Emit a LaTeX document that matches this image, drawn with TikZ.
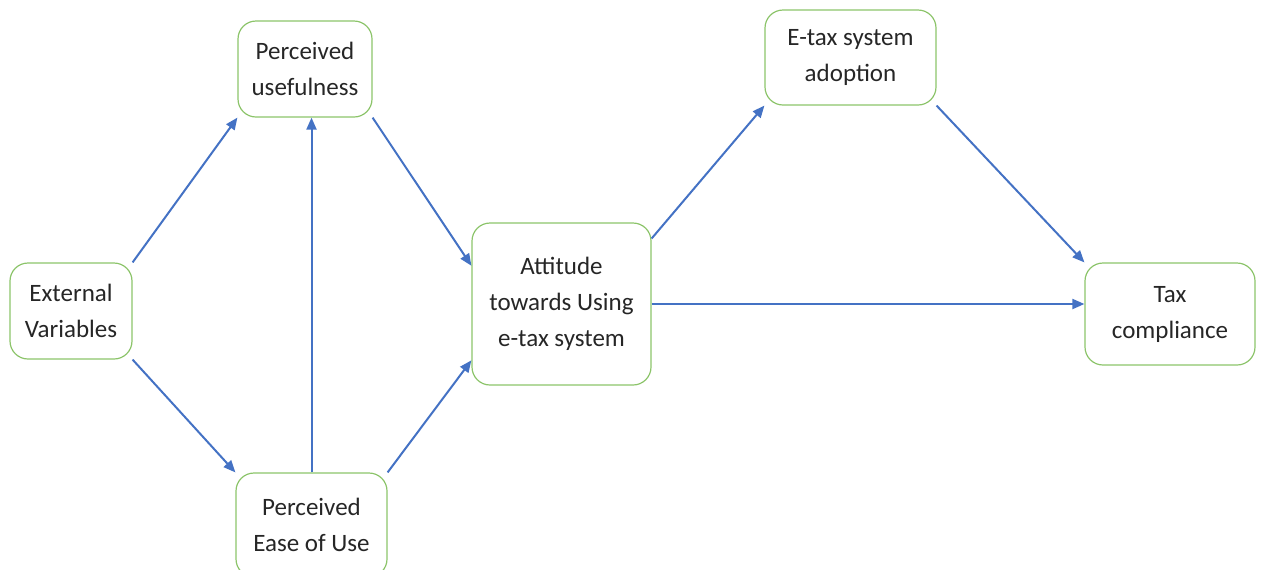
\documentclass[tikz,border=0pt]{standalone}
\usepackage{fontspec}
\setmainfont{Carlito}
\usetikzlibrary{arrows.meta}
\definecolor{boxgreen}{HTML}{8CC46A}
\definecolor{arrowblue}{HTML}{4472C4}
\begin{document}
\begin{tikzpicture}[x=0.5pt,y=-0.5pt,
		block/.style={draw=boxgreen,line width=0.6pt,rounded corners=9pt,align=center,inner sep=0pt,
			font=\fontsize{12.5}{18}\selectfont,text=black!85},
		link/.style={arrowblue,line width=1pt,-{Triangle[length=6pt,width=5pt]}}]
		\useasboundingbox (0,0) rectangle (1262,569);
		
		\node[block,minimum width=61pt,minimum height=48pt] (ext) at (71,311) {External\\Variables};
		\node[block,minimum width=67pt,minimum height=48pt] (useful) at (305,69) {Perceived\\usefulness};
		\node[block,minimum width=75.5pt,minimum height=52pt] (ease) at (311.5,525) {Perceived\\Ease of Use};
		\node[block,minimum width=89.5pt,minimum height=81pt] (att) at (561.5,304) {Attitude\\towards Using\\e-tax system};
		\node[block,minimum width=85.5pt,minimum height=47.5pt] (adopt) at (850.5,57.5) {E-tax system\\adoption};
		\node[block,minimum width=85pt,minimum height=51pt] (tax) at (1170,314) {Tax\\compliance};
		
		\draw[link] (ext.north east) -- (useful.south west);
		\draw[link] (ext.south east) -- (ease.north west);
		\draw[link] (ease.north) -- (ease.north |- useful.south);
		\draw[link] (useful.south east) -- (att.157);
		\draw[link] (ease.north east) -- (att.212);
		\draw[link] (att.36) -- (adopt.south west);
		\draw[link] (att.east) -- (att.east -| tax.west);
		\draw[link] (adopt.south east) -- (tax.north west);
	\end{tikzpicture}
\end{document}
